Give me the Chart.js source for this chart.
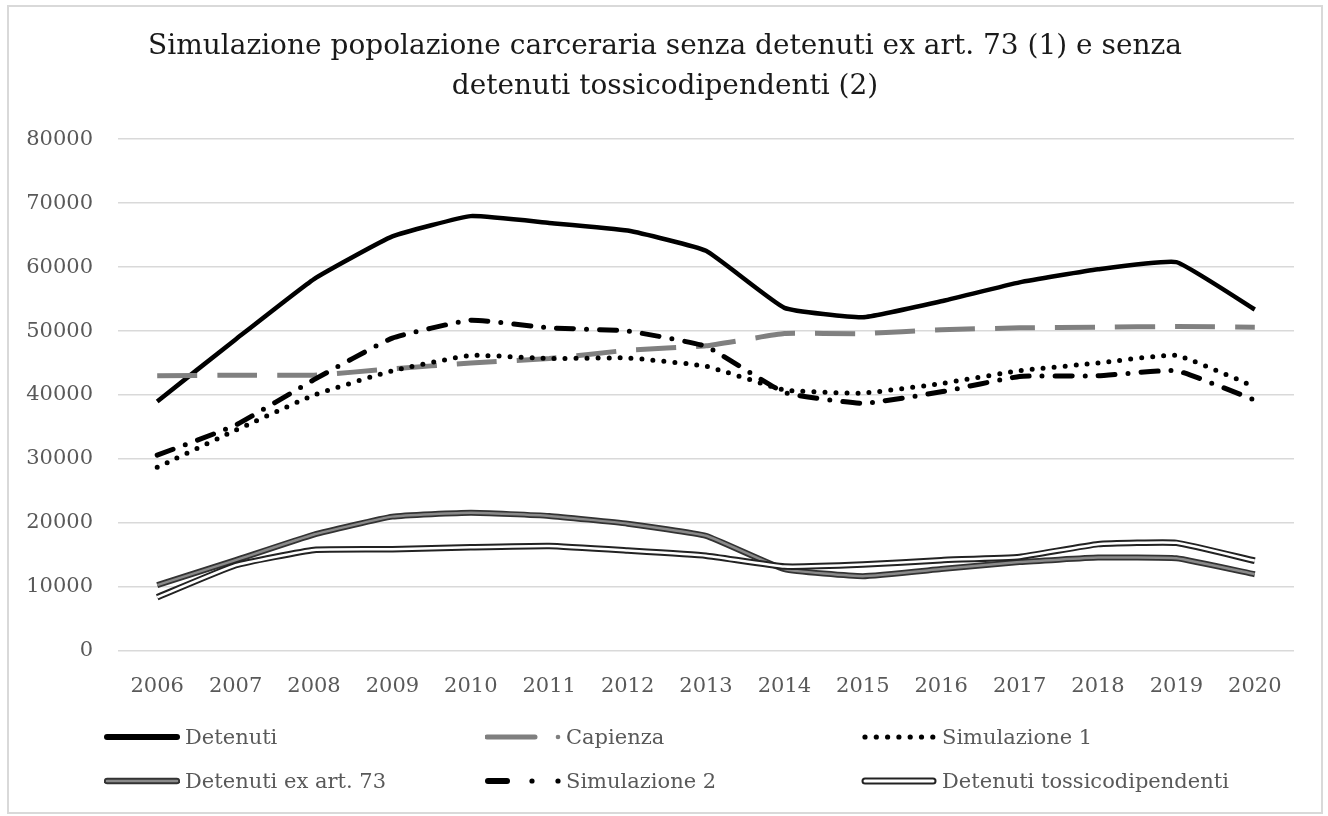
<!DOCTYPE html>
<html lang="it">
<head>
<meta charset="utf-8">
<title>Simulazione popolazione carceraria</title>
<script src="https://cdn.jsdelivr.net/npm/chart.js@4.4.1/dist/chart.umd.min.js"></script>
<style>
  html, body { margin: 0; padding: 0; background: #fff; }
  #wrap { position: relative; width: 1328px; height: 816px; overflow: hidden; }
  #chart { position: absolute; left: 0; top: 0; }
  #frame {
    position: absolute; left: 7px; top: 5px; width: 1316px; height: 809px;
    border: 2px solid #d9d9d9; box-sizing: border-box; pointer-events: none;
  }
  #legend {
    position: absolute; left: 104px; top: 722px;
    display: grid; grid-template-columns: 381px 376px 400px; row-gap: 14px;
    font-family: "DejaVu Serif", serif; font-size: 21px; color: #595959;
  }
  .item { display: flex; align-items: center; height: 30px; white-space: nowrap; }
  .item svg { margin-right: 5px; flex: none; }
</style>
</head>
<body>
<div id="wrap">
  <canvas id="chart" width="1328" height="816"></canvas>
  <div id="frame"></div>
  <div id="legend"></div>
</div>
<script>
const years = ['2006', '2007', '2008', '2009', '2010', '2011', '2012', '2013', '2014', '2015', '2016', '2017', '2018', '2019', '2020'];

const detenuti = [39005, 48693, 58127, 64791, 67961, 66897, 65701, 62536, 53623, 52164, 54653, 57608, 59655, 60769, 53364];
const capienza = [43000, 43100, 43100, 44100, 45000, 45700, 47000, 47700, 49600, 49600, 50200, 50500, 50600, 50700, 50600];
const simulazione1 = [28700, 34500, 40000, 43800, 46200, 45700, 45800, 44500, 40800, 40300, 41800, 43800, 45000, 46200, 41300];
const simulazione2 = [30600, 35300, 42400, 48900, 51700, 50500, 50000, 47600, 40400, 38700, 40500, 42900, 43000, 43800, 39200];
const exArt73 = [10300, 14200, 18200, 21000, 21600, 21100, 19900, 18000, 12800, 11700, 12800, 13900, 14600, 14500, 12000];
const tossicodipendenti = [8400, 13400, 15800, 15900, 16200, 16400, 15700, 14900, 13200, 13500, 14200, 14700, 16700, 16900, 14100];

const titleLines = [
  'Simulazione popolazione carceraria senza detenuti ex art. 73 (1) e senza',
  'detenuti tossicodipendenti (2)'
];

const serif = '"DejaVu Serif", serif';

// legend order follows the reference (3 columns, 2 rows)
const legendItems = [
  { label: 'Detenuti', swatch: 'solid' },
  { label: 'Capienza', swatch: 'dash' },
  { label: 'Simulazione 1', swatch: 'dots' },
  { label: 'Detenuti ex art. 73', swatch: 'doubleGrey' },
  { label: 'Simulazione 2', swatch: 'dashDot' },
  { label: 'Detenuti tossicodipendenti', swatch: 'doubleWhite' }
];

function swatchSvg(kind) {
  const w = 76, h = 14, y = 7;
  let s = '';
  if (kind === 'solid') {
    s = `<line x1="3" y1="${y}" x2="73" y2="${y}" stroke="#000" stroke-width="6" stroke-linecap="round"/>`;
  } else if (kind === 'dash') {
    s = `<line x1="2" y1="${y}" x2="50" y2="${y}" stroke="#7f7f7f" stroke-width="5" stroke-linecap="round"/>` +
        `<circle cx="73" cy="${y}" r="2.3" fill="#7f7f7f"/>`;
  } else if (kind === 'dots') {
    for (let x = 4; x <= 72; x += 11.3) s += `<circle cx="${x}" cy="${y}" r="2.6" fill="#000"/>`;
  } else if (kind === 'doubleGrey') {
    s = `<line x1="3" y1="${y}" x2="73" y2="${y}" stroke="#333" stroke-width="6.5" stroke-linecap="round"/>` +
        `<line x1="3" y1="${y}" x2="73" y2="${y}" stroke="#8a8a8a" stroke-width="2.5" stroke-linecap="round"/>`;
  } else if (kind === 'dashDot') {
    s = `<line x1="3" y1="${y}" x2="22" y2="${y}" stroke="#000" stroke-width="6" stroke-linecap="round"/>` +
        `<circle cx="47" cy="${y}" r="2.6" fill="#000"/>` +
        `<circle cx="73" cy="${y}" r="2.6" fill="#000"/>`;
  } else if (kind === 'doubleWhite') {
    s = `<line x1="4" y1="${y}" x2="72" y2="${y}" stroke="#222" stroke-width="7" stroke-linecap="round"/>` +
        `<line x1="4" y1="${y}" x2="72" y2="${y}" stroke="#fff" stroke-width="3" stroke-linecap="round"/>`;
  }
  return `<svg width="${w}" height="${h}" viewBox="0 0 ${w} ${h}">${s}</svg>`;
}

const legendEl = document.getElementById('legend');
legendItems.forEach(item => {
  const div = document.createElement('div');
  div.className = 'item';
  div.innerHTML = swatchSvg(item.swatch) + `<span>${item.label}</span>`;
  legendEl.appendChild(div);
});

// lower order = drawn on top
const datasets = [
  { label: 'Detenuti', data: detenuti, borderColor: '#000', borderWidth: 4.5, order: 8 },
  { label: 'Capienza', data: capienza, borderColor: '#808080', borderWidth: 5, borderDash: [40, 20], order: 7 },
  { label: 'Simulazione 1', data: simulazione1, borderColor: '#000', borderWidth: 5, borderDash: [0, 11], borderCapStyle: 'round', order: 6 },
  { label: 'Simulazione 2', data: simulazione2, borderColor: '#000', borderWidth: 5, borderDash: [17, 13, 0, 13], borderCapStyle: 'round', order: 5 },
  // double lines: dark outer stroke + thinner inner stroke on the same values
  { label: 'Detenuti ex art. 73', data: exArt73, borderColor: '#333', borderWidth: 6, order: 4 },
  { label: 'Detenuti ex art. 73 (interno)', data: exArt73, borderColor: '#8a8a8a', borderWidth: 2.5, order: 3 },
  { label: 'Detenuti tossicodipendenti', data: tossicodipendenti, borderColor: '#222', borderWidth: 6.5, order: 2 },
  { label: 'Detenuti tossicodipendenti (interno)', data: tossicodipendenti, borderColor: '#fff', borderWidth: 2.5, order: 1 }
];

// centre the title on the whole page rather than on the padded box
const titleShift = {
  id: 'titleShift',
  afterLayout(chart) {
    const t = chart.titleBlock;
    if (!t) return;
    t.left += 13;
    t.right += 13;
  }
};

const ctx = document.getElementById('chart').getContext('2d');
new Chart(ctx, {
  type: 'line',
  data: { labels: years, datasets: datasets },
  plugins: [titleShift],
  options: {
    responsive: false,
    animation: false,
    layout: { padding: { left: 10, right: 34, top: 0, bottom: 0 } },
    elements: {
      point: { radius: 0 },
      line: { tension: 0.12, fill: false }
    },
    plugins: {
      legend: { display: false },
      tooltip: { enabled: false },
      title: {
        display: true,
        text: titleLines,
        color: '#1a1a1a',
        font: { family: serif, size: 28, weight: 'normal', lineHeight: 1.43 },
        padding: { top: 27, bottom: 32 }
      }
    },
    scales: {
      x: {
        offset: true,
        grid: { display: false, drawTicks: false },
        border: { display: false },
        ticks: { color: '#595959', font: { family: serif, size: 21 }, padding: 23, maxRotation: 0 },
        afterFit: scale => { scale.height = 165; }
      },
      y: {
        min: 0,
        max: 80000,
        ticks: {
          stepSize: 10000,
          color: '#595959',
          font: { family: serif, size: 21 },
          padding: 25,
          callback: value => String(value)
        },
        grid: { color: '#d9d9d9', lineWidth: 1.5, drawTicks: false },
        border: { display: false },
        afterFit: scale => { scale.width = 108; }
      }
    }
  }
});
</script>
</body>
</html>
